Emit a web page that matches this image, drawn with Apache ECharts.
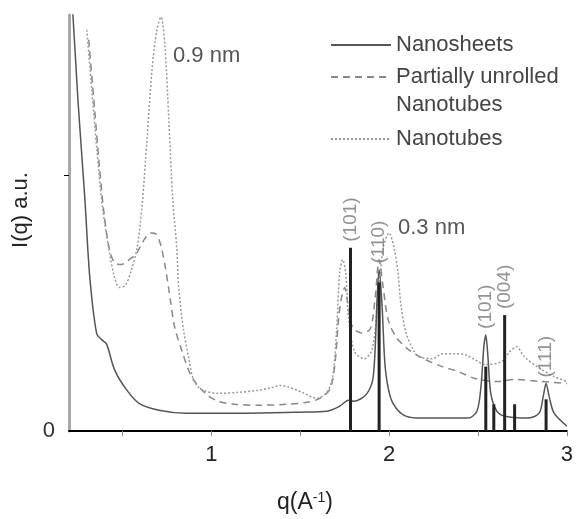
<!DOCTYPE html>
<html><head><meta charset="utf-8">
<script src="https://cdn.jsdelivr.net/npm/echarts@6/dist/echarts.min.js"></script>
<style>html,body{margin:0;padding:0;background:#fff}#c{width:576px;height:519px}</style>
</head><body><div id="c"></div>
<script>
// q (A^-1), intensity (a.u.)
const nanosheets = [
  [0.215,428],[0.222,420],[0.25,335],[0.289,235],[0.317,155],[0.356,98],[0.385,92],[0.411,88],
  [0.456,62],[0.522,42],[0.594,28],[0.706,21],[0.856,18],[1.206,18],[1.5,19],[1.65,20],
  [1.722,25],[1.772,31],[1.8,30],[1.872,37],[1.911,55],[1.933,135],[1.944,163],[1.961,125],
  [1.978,65],[2.006,35],[2.04,23],[2.094,15],[2.178,13],[2.444,13],[2.494,20],[2.517,45],
  [2.533,85],[2.544,97],[2.556,75],[2.572,38],[2.606,20],[2.65,15],[2.778,13],[2.844,18],
  [2.867,35],[2.883,48],[2.9,35],[2.928,18],[3.0,5]
];
const partiallyUnrolled = [
  [0.311,395],[0.344,325],[0.372,265],[0.4,215],[0.428,183],[0.456,170],[0.494,168],[0.539,173],
  [0.578,179],[0.622,193],[0.661,200],[0.689,199],[0.717,187],[0.744,163],[0.772,130],[0.794,105],
  [0.833,82],[0.889,55],[0.967,38],[1.039,30],[1.133,27],[1.261,26],[1.428,27],[1.539,29],
  [1.611,33],[1.667,42],[1.694,65],[1.717,115],[1.733,135],[1.75,145],[1.767,130],[1.794,105],
  [1.844,99],[1.894,103],[1.922,135],[1.944,173],[1.967,145],[1.994,113],[2.039,95],[2.111,82],
  [2.206,72],[2.3,65],[2.389,60],[2.483,53],[2.611,50],[2.706,52],[2.856,50],[3.0,48]
];
const nanotubes = [
  [0.3,405],[0.328,345],[0.356,285],[0.389,225],[0.428,180],[0.456,155],[0.483,145],[0.517,147],
  [0.55,162],[0.583,185],[0.611,228],[0.639,295],[0.667,365],[0.694,405],[0.717,418],[0.739,390],
  [0.761,315],[0.783,235],[0.806,185],[0.817,145],[0.844,102],[0.872,75],[0.9,52],[0.944,42],
  [1.039,38],[1.15,39],[1.261,41],[1.344,44],[1.389,46],[1.439,44],[1.511,39],[1.594,33],
  [1.65,39],[1.683,55],[1.706,105],[1.722,160],[1.739,173],[1.756,160],[1.772,115],[1.806,80],
  [1.861,73],[1.906,83],[1.939,135],[1.967,185],[2.0,200],[2.028,185],[2.05,160],[2.067,127],
  [2.094,100],[2.133,83],[2.167,75],[2.244,73],[2.3,78],[2.372,78],[2.428,77],[2.483,72],
  [2.539,67],[2.633,70],[2.678,80],[2.717,85],[2.761,75],[2.833,65],[2.928,55],[3.0,50]
];
const stickQ = [1.783, 1.944, 2.544, 2.589, 2.65, 2.706, 2.883];
const stickI = [185, 150, 65, 27, 117, 27, 32];
const stickLabels = ['(101)', '(110)', '(101)', '', '(004)', '', '(111)'];
const xTickValues = [0.5, 1, 1.5, 2, 2.5, 3];
const xLabelValues = [1, 2, 3];
const yTickValues = [258];
const yLabelValues = [0];
const seriesNames = ['Nanosheets', 'Partially unrolled Nanotubes', 'Nanotubes'];
const annotations = ['0.9 nm', '0.3 nm'];

const FONT = "'Liberation Sans', Arial, sans-serif";
const sticks = stickQ.map((q, i) => [q, stickI[i]]);
const labelAnchors = [];
stickQ.forEach((q, i) => {
  if (!stickLabels[i]) return;
  let m = stickI[i];
  nanosheets.forEach(p => { if (Math.abs(p[0] - q) < 0.015) m = Math.max(m, p[1]); });
  labelAnchors.push({ value: [q, m], name: stickLabels[i] });
});

const chart = echarts.init(document.getElementById('c'), null, { renderer: 'canvas' });
const legendBase = {
  orient: 'vertical', left: 325, itemWidth: 60, itemHeight: 14, selectedMode: false,
  itemStyle: { opacity: 0 },
  textStyle: { fontFamily: FONT, fontSize: 22, color: '#444', lineHeight: 28 }
};
chart.setOption({
  backgroundColor: '#ffffff',
  animation: false,
  textStyle: { fontFamily: FONT },
  grid: { left: 69, right: 3, top: 15, bottom: 84 },
  legend: [
    Object.assign({}, legendBase, { top: 26, data: [seriesNames[0]] }),
    Object.assign({}, legendBase, {
      top: 30, data: [seriesNames[1]],
      formatter: () => ' \nPartially unrolled\nNanotubes'
    }),
    Object.assign({}, legendBase, { top: 120, data: [seriesNames[2]] })
  ],
  xAxis: {
    type: 'value', min: 0.2, max: 3,
    name: 'q(A{sup|-1})', nameLocation: 'middle', nameGap: 60,
    nameTextStyle: { fontSize: 23, color: '#222', padding: [0, 26, 0, 0],
      rich: { sup: { fontSize: 14, verticalAlign: 'top', color: '#222' } } },
    axisLine: { onZero: false, lineStyle: { color: '#000', width: 2 } },
    axisTick: { show: true, customValues: xTickValues, length: 5, lineStyle: { color: '#888', width: 1 } },
    axisLabel: { customValues: xLabelValues, fontSize: 22, color: '#222', margin: 13,
      formatter: v => String(Math.round(v)) },
    splitLine: { show: false }
  },
  yAxis: {
    type: 'value', min: 0, max: 420,
    name: 'I(q) a.u.', nameLocation: 'middle', nameRotate: 90, nameGap: 36,
    nameTextStyle: { fontSize: 22, color: '#222', padding: [0, 0, 0, 26] },
    axisLine: { show: true, onZero: false, lineStyle: { color: '#aaa', width: 3 } },
    axisTick: { show: true, customValues: yTickValues, length: 5, lineStyle: { color: '#000', width: 1 } },
    axisLabel: { customValues: yLabelValues, fontSize: 22, color: '#333', margin: 14 },
    splitLine: { show: false }
  },
  series: [
    { name: seriesNames[0], type: 'line', data: nanosheets, showSymbol: false, symbol: 'none',
      smooth: 0.3, lineStyle: { color: '#555', width: 1.5 }, itemStyle: { color: '#555' }, z: 3 },
    { name: seriesNames[1], type: 'line', data: partiallyUnrolled, showSymbol: false, symbol: 'none',
      smooth: 0.3, lineStyle: { color: '#888', width: 1.5, type: [7, 5] }, itemStyle: { color: '#888' }, z: 2 },
    { name: seriesNames[2], type: 'line', data: nanotubes, showSymbol: false, symbol: 'none',
      smooth: 0.3, lineStyle: { color: '#999', width: 1.5, type: [2, 2] }, itemStyle: { color: '#999' }, z: 2 },
    { name: 'sticks', type: 'bar', data: sticks, barWidth: 3, itemStyle: { color: '#222' }, z: 4 },
    { name: 'peakLabels', type: 'scatter', data: labelAnchors, symbolSize: 0, silent: true,
      label: { show: true, formatter: p => p.name, position: 'top', distance: 6, rotate: 90,
        align: 'left', verticalAlign: 'middle', fontSize: 19, color: '#777' } }
  ],
  graphic: [
    { type: 'text', left: 173, top: 45, style: { text: annotations[0], font: '22px ' + FONT, fill: '#555' } },
    { type: 'text', left: 398, top: 217, style: { text: annotations[1], font: '22px ' + FONT, fill: '#555' } }
  ]
});
</script>
</body></html>
